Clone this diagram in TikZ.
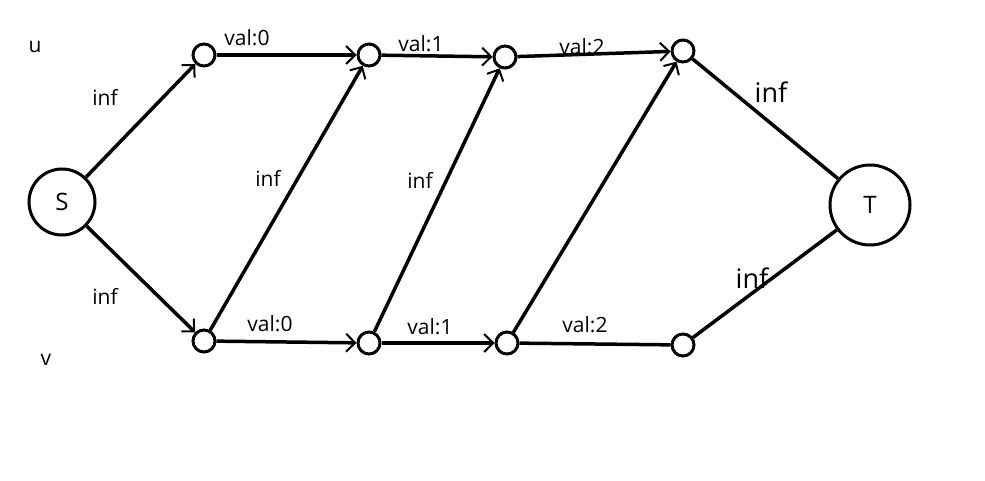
\documentclass[tikz,border=0pt]{standalone}
\usepackage{fontspec}
\setmainfont{Open Sans}
\usetikzlibrary{arrows.meta}
\begin{document}
\begin{tikzpicture}[x=1pt,y=-1pt,
  sm/.style={circle,draw,line width=3pt,minimum size=22pt,inner sep=0pt},
  big/.style={circle,draw,line width=3pt,inner sep=0pt,font=\fontsize{24}{28}\selectfont},
  ed/.style={line width=3.5pt},
  ar/.style={ed,-{Straight Barb[length=9pt,width=18pt,line width=2pt]}},
  lb/.style={font=\fontsize{21}{24}\selectfont}]
\useasboundingbox (0,0) rectangle (985,481);
\node[big,minimum size=66pt] (S) at (62,202) {S};
\node[big,minimum size=80pt] (T) at (870,205) {T};
\node[sm] (a1) at (204,55) {};
\node[sm] (a2) at (369,55) {};
\node[sm] (a3) at (505,57) {};
\node[sm] (a4) at (683,51) {};
\node[sm] (b1) at (204,341) {};
\node[sm] (b2) at (369,343) {};
\node[sm] (b3) at (507,343) {};
\node[sm] (b4) at (683,345) {};
\draw[ar] (S) -- (a1);
\draw[ar] (S) -- (b1);
\draw[ar] (a1) -- (a2);
\draw[ar] (a2) -- (a3);
\draw[ar] (a3) -- (a4);
\draw[ar] (b1) -- (b2);
\draw[ar] (b2) -- (b3);
\draw[ed] (b3) -- (b4);
\draw[ar] (b1) -- (a2);
\draw[ar] (b2) -- (a3);
\draw[ar] (b3) -- (a4);
\draw[ed] (a4) -- (T);
\draw[ed] (b4) -- (T);
\node[lb] (u) at (35,47) {u};
\node[lb] (v) at (46,360) {v};
\node[lb] (i1) at (105,97) {inf};
\node[lb] (i2) at (105,296) {inf};
\node[lb] (i3) at (268,178) {inf};
\node[lb] (i4) at (420,180) {inf};
\node[lb,font=\fontsize{27}{30}\selectfont] (i5) at (771,92) {inf};
\node[lb,font=\fontsize{27}{30}\selectfont] (i6) at (752,278) {inf};
\node[lb] (t1) at (247,38) {val:0};
\node[lb] (t2) at (421,44) {val:1};
\node[lb] (t3) at (582,47) {val:2};
\node[lb] (d1) at (270,324) {val:0};
\node[lb] (d2) at (430,327) {val:1};
\node[lb] (d3) at (585,325) {val:2};
\end{tikzpicture}
\end{document}
